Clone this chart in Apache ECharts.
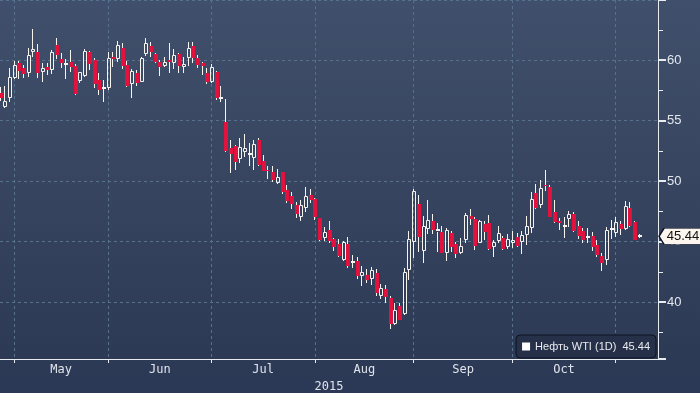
<!DOCTYPE html>
<html>
<head>
<meta charset="utf-8">
<script src="https://cdn.jsdelivr.net/npm/echarts@6/dist/echarts.min.js"></script>
<style>
html,body{margin:0;padding:0;background:#2c3956;}
#c{width:700px;height:393px;}
</style>
</head>
<body>
<div id="c"></div>
<script>
// ---- data ----
var seriesName = 'Нефть WTI (1D)';
var lastPrice = 45.44;
var yearLabel = '2015';
var monthNames = ['Jan','Feb','Mar','Apr','May','Jun','Jul','Aug','Sep','Oct','Nov','Dec'];
var firstDay = '2015-04-28';
var dayCount = 141;
var holidays = ['2015-05-25','2015-07-03','2015-09-07'];

var openVals = [57.25,56.14,56.89,58.49,59.78,59.32,58.90,60.69,60.64,58.98,59.40,59.17,61.24,60.08,59.65,59.81,59.50,58.27,58.71,60.64,60.00,58.35,57.64,
57.70,60.22,60.06,60.97,59.59,57.99,58.95,58.21,60.50,61.16,60.50,59.86,59.53,60.00,59.73,60.50,59.40,60.14,61.16,60.14,59.73,58.90,
58.21,59.04,56.87,54.85,52.70,52.89,51.80,52.42,52.19,51.93,53.39,51.65,50.91,50.72,49.86,50.72,49.26,48.76,48.02,47.00,47.80,48.85,
48.52,46.92,45.31,45.95,45.21,44.80,43.47,44.80,43.26,43.39,42.18,42.23,41.88,42.42,40.53,41.08,40.31,38.16,39.67,38.99,42.65,
44.98,48.07,44.20,46.04,46.70,45.81,45.81,44.08,45.73,44.80,44.08,45.12,47.11,46.83,44.90,46.42,46.51,44.57,45.04,45.32,44.52,
44.90,45.35,44.98,45.54,46.09,48.98,48.02,49.67,49.53,47.46,46.70,46.29,46.83,47.27,46.28,45.89,45.33,45.46,44.71,43.80,43.47,45.99,
45.73,46.45,46.01,47.74,46.64,45.44];
var closeVals = [56.88,56.61,58.57,59.59,59.12,58.84,60.41,60.91,58.90,59.32,59.17,60.69,60.41,59.78,59.69,59.40,57.19,58.98,60.75,59.65,58.02,57.52,57.68,
60.20,60.06,61.24,59.50,57.88,59.09,58.07,60.14,61.38,60.69,59.86,59.45,59.86,59.86,60.41,59.50,59.67,60.97,60.19,59.59,59.53,58.21,
59.40,56.89,56.91,52.48,52.23,51.60,52.84,52.70,52.25,53.03,51.32,50.85,50.83,50.08,50.31,49.07,48.35,48.07,47.27,48.02,48.76,48.43,
47.05,45.12,45.81,45.04,44.57,43.80,44.98,43.00,43.30,42.15,42.46,41.82,42.65,40.77,41.13,40.44,38.19,39.34,38.52,42.51,45.18,
49.17,45.40,46.28,46.78,45.95,45.95,44.03,45.95,44.52,43.97,44.63,47.19,46.86,44.66,46.70,45.81,44.38,44.94,45.68,44.38,45.18,
45.12,44.66,45.54,46.28,48.52,47.75,49.40,49.59,47.05,46.64,46.56,46.33,47.27,45.87,45.46,45.12,45.37,44.57,43.89,43.20,45.95,46.03,
46.64,46.04,47.93,46.28,45.12,45.44];
var lowVals = [56.60,56.06,56.56,58.43,58.43,58.49,58.62,60.30,58.49,58.16,58.76,58.84,60.08,59.37,58.43,58.98,57.11,58.13,58.62,59.17,57.66,57.11,56.56,
57.55,59.40,59.86,59.23,57.80,56.89,57.88,58.16,60.36,60.28,59.73,58.70,59.40,58.90,59.23,58.90,58.95,59.50,59.73,59.32,58.76,57.99,
58.08,56.70,56.56,52.42,50.64,50.91,51.51,52.01,51.27,50.91,51.24,50.85,50.17,49.89,49.75,48.93,48.16,47.66,46.97,46.70,47.46,48.16,
46.75,45.07,45.07,44.85,44.24,43.70,43.39,42.79,42.84,41.90,41.32,41.55,41.41,40.50,40.25,39.90,37.77,38.10,38.52,38.93,41.82,
43.67,44.16,43.25,45.62,45.62,44.16,44.03,43.41,44.16,43.61,43.97,44.85,46.37,44.30,44.85,45.12,44.30,43.75,44.85,44.30,44.38,
44.44,44.57,43.97,44.74,45.73,47.69,47.80,49.17,47.00,46.51,45.95,45.27,46.23,45.81,45.21,44.85,44.90,44.24,43.70,42.59,43.06,45.21,
45.40,45.54,45.95,46.23,45.12,45.27];
var highVals = [57.80,57.85,59.32,59.92,59.92,59.59,61.02,62.56,61.32,59.78,59.78,60.83,61.79,60.55,60.08,60.83,59.65,59.00,60.88,60.77,60.19,58.90,58.35,
60.65,60.69,61.57,61.38,59.94,59.23,59.17,60.22,61.84,61.52,60.61,60.00,60.28,61.38,60.91,60.61,60.22,61.46,61.52,60.41,59.86,59.32,
59.67,59.10,57.90,56.78,53.39,52.98,53.58,53.89,53.12,53.39,53.53,52.15,51.27,51.27,51.00,50.75,49.67,49.12,48.24,48.43,49.54,49.34,
48.60,46.97,46.23,46.70,45.32,45.18,45.04,45.40,43.89,43.75,43.00,42.73,42.87,42.73,41.49,41.41,40.53,39.90,39.90,42.84,45.87,
49.34,48.85,47.13,48.43,47.27,46.51,46.28,46.09,45.87,44.98,45.32,47.38,47.69,47.05,46.78,46.70,47.19,45.12,46.28,45.46,45.62,
45.87,45.73,45.87,47.11,49.07,49.75,50.08,50.91,49.67,48.43,46.92,47.00,47.52,47.46,46.70,46.09,46.09,45.81,45.12,44.03,46.17,46.78,
47.05,46.68,48.37,48.29,46.68,45.62];

// ---- trading-day categories ----
function pad(n){return (n<10?'0':'')+n;}
var dates = [];
(function(){
  var d = new Date(firstDay + 'T12:00:00Z');
  while (dates.length < dayCount) {
    var wd = d.getUTCDay();
    var s = d.getUTCFullYear() + '-' + pad(d.getUTCMonth()+1) + '-' + pad(d.getUTCDate());
    if (wd !== 0 && wd !== 6 && holidays.indexOf(s) < 0) dates.push(s);
    d.setUTCDate(d.getUTCDate() + 1);
  }
})();
var monthStarts = [];
for (var i = 1; i < dates.length; i++) {
  if (dates[i].slice(5,7) !== dates[i-1].slice(5,7)) monthStarts.push(i);
}
var isMonthStart = {};
monthStarts.forEach(function(i){ isMonthStart[i] = true; });
var labelAt = {};
for (var k = 0; k + 1 < monthStarts.length; k++) {
  var mid = (monthStarts[k] + monthStarts[k+1]) / 2;
  var idx = Math.floor(mid);
  labelAt[idx] = { name: monthNames[parseInt(dates[monthStarts[k]].slice(5,7),10)-1], half: mid !== idx };
}

var candleData = openVals.map(function(o, i){
  return [i, o, closeVals[i], lowVals[i], highVals[i]];
});

var WHITE = '#f7f3ee';
var RED = '#e2123e';
var GRID = '#56708e';
var TXT = '#dfe3ea';

function renderItem(params, api) {
  var i = api.value(0);
  var o = api.value(1), c = api.value(2), l = api.value(3), h = api.value(4);
  var pO = api.coord([i, o]), pC = api.coord([i, c]);
  var pL = api.coord([i, l]), pH = api.coord([i, h]);
  var col = Math.floor(pO[0]);
  var xm = col + 0.5;
  var yTop = Math.round(Math.min(pO[1], pC[1]));
  var yBot = Math.round(Math.max(pO[1], pC[1]));
  var yH = Math.round(pH[1]), yL = Math.round(pL[1]);
  var up = c >= o;
  var kids = [];
  var wick = {stroke: WHITE, lineWidth: 1};
  if (yTop > yH) kids.push({type:'line', shape:{x1:xm, y1:yH, x2:xm, y2:yTop}, style:wick});
  if (yL > yBot) kids.push({type:'line', shape:{x1:xm, y1:yBot, x2:xm, y2:yL}, style:wick});
  if (up) {
    if (yBot - yTop <= 2) {
      kids.push({type:'rect', shape:{x:col-1, y:yTop-1, width:4, height:2}, style:{fill:WHITE}});
    } else {
      kids.push({type:'rect', shape:{x:col-0.5, y:yTop+0.5, width:3, height:yBot-yTop-1},
        style:{fill:'none', stroke:WHITE, lineWidth:1}});
    }
  } else {
    kids.push({type:'rect', shape:{x:col-1, y:yTop, width:4, height:Math.max(1, yBot-yTop)}, style:{fill:RED}});
  }
  return {type:'group', children:kids};
}

var chart = echarts.init(document.getElementById('c'), null, {renderer:'canvas'});
chart.setOption({
  animation: false,
  backgroundColor: {
    type:'linear', x:0, y:0, x2:0, y2:1,
    colorStops:[{offset:0, color:'#404f6b'},{offset:0.5, color:'#36445f'},{offset:0.91, color:'#2d3a56'},{offset:1, color:'#2c3956'}]
  },
  grid: {left:0, right:42, top:0, bottom:34, containLabel:false, outerBoundsMode:'none'},
  legend: {
    show:true, right:44, bottom:35, orient:'horizontal',
    data:[{name:seriesName, icon:'rect', itemStyle:{color:'#ffffff'}}],
    itemWidth:8, itemHeight:8, itemGap:6,
    padding:[6,6], backgroundColor:'#263149', borderColor:'#0c1220', borderWidth:1, borderRadius:4,
    textStyle:{color:'#e8ebf0', fontSize:11, fontFamily:'Liberation Sans, Arial, sans-serif'},
    formatter:function(n){ return n + '  ' + lastPrice.toFixed(2); },
    selectedMode:false
  },
  xAxis: {
    type:'category', data:dates, boundaryGap:false,
    axisLine:{show:true, onZero:false, lineStyle:{color:'#e8ebf0', width:1}},
    axisTick:{show:true, length:4, interval:function(i){ return !!isMonthStart[i]; }, lineStyle:{color:'#e8ebf0'}},
    axisLabel:{
      show:true, margin:5,
      interval:function(i){ return labelAt[i] !== undefined; },
      formatter:function(v, i){ var L = labelAt[i]; if (!L) return ''; return (L.half ? '{b|' : '{a|') + L.name + '}'; },
      rich:{
        a:{color:TXT, fontSize:12, fontFamily:'DejaVu Sans Mono, monospace'},
        b:{color:TXT, fontSize:12, fontFamily:'DejaVu Sans Mono, monospace', padding:[0,0,0,5]}
      }
    },
    splitLine:{show:true, interval:function(i){ return !!isMonthStart[i]; }, lineStyle:{color:GRID, type:[3,3], width:1}},
    name:yearLabel, nameLocation:'middle', nameGap:18,
    nameTextStyle:{color:TXT, fontSize:12, fontFamily:'DejaVu Sans Mono, monospace'}
  },
  yAxis: {
    type:'value', position:'right', min:35.3, max:64.97, splitNumber:5,
    axisLine:{show:true, lineStyle:{color:'#e8ebf0', width:1}},
    axisTick:{show:true, length:8, lineStyle:{color:'#e8ebf0', width:2}},
    minorTick:{show:true, splitNumber:2, length:5, lineStyle:{color:'#e8ebf0', width:1}},
    axisLabel:{show:true, showMinLabel:false, showMaxLabel:false, color:'#e4e8ee', fontSize:13, margin:9,
      fontFamily:'Liberation Sans, Arial, sans-serif'},
    splitLine:{show:true, lineStyle:{color:GRID, type:[3,3], width:1}}
  },
  series: [{
    name:seriesName, type:'custom', renderItem:renderItem, clip:true,
    itemStyle:{color:'#ffffff'},
    encode:{x:0, y:[1,2,3,4]},
    data:candleData,
    markPoint:{
      silent:true, animation:false,
      data:[{
        coord:[dates.length-1, lastPrice],
        symbol:'path://M0,8L5,0L44,0L44,16L5,16Z', symbolSize:[44,16], symbolOffset:[23,0],
        itemStyle:{color:'#fdf6ef', borderColor:'#0e1526', borderWidth:1},
        label:{show:true, position:'inside', offset:[2,0], formatter:lastPrice.toFixed(2),
          color:'#111111', fontSize:13, fontFamily:'Liberation Sans, Arial, sans-serif'}
      }]
    }
  }]
});
</script>
</body>
</html>
